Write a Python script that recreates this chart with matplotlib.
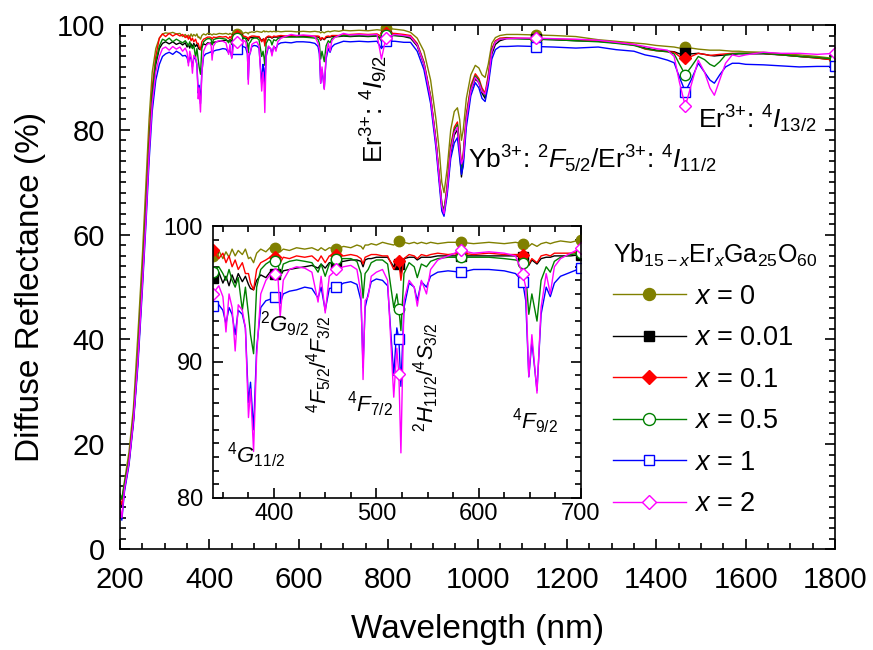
import numpy as np
import matplotlib
matplotlib.use("Agg")
import matplotlib.pyplot as plt
from matplotlib.ticker import MultipleLocator

plt.rcParams.update({
    "font.family": "Liberation Sans",
    "mathtext.fontset": "custom",
    "mathtext.rm": "Liberation Sans",
    "mathtext.it": "Liberation Sans:italic",
    "mathtext.bf": "Liberation Sans:bold",
    "xtick.direction": "in",
    "ytick.direction": "in",
    "xtick.top": True,
    "ytick.right": True,
    "axes.linewidth": 1.2,
})

# ---------------------------------------------------------------------------
# data: wavelength grid + one reflectance list per x
# ---------------------------------------------------------------------------
wavelength = [
    # UV edge
    200, 204, 210, 220, 230, 240, 250, 258, 265, 272, 280, 288, 295, 302, 310, 318, 326, 334,
    # visible (inset range)
    340, 346, 350, 353, 356, 359, 362, 365, 369, 372, 375, 377, 380, 383, 387, 392, 396, 401,
    404, 406, 409, 415, 422, 430, 437, 443, 446, 450, 454, 461, 468, 475, 481, 485, 487, 489,
    492, 495, 500, 506, 511, 517, 520, 522, 524, 527, 532, 537, 540, 544, 549, 553, 560, 570,
    583, 595, 610, 625, 636, 643, 646, 649, 652, 657, 661, 666, 670, 674, 680, 690, 700,
    # near IR
    715, 735, 755, 775, 785, 795, 815, 835,
    850, 865, 880, 895, 907, 915, 920, 925, 932, 940, 948, 955, 960, 964, 968, 975, 985, 995,
    1003, 1010, 1017, 1024, 1032, 1040, 1050,
    1065, 1090, 1130, 1170, 1220, 1270, 1310, 1350, 1375, 1400, 1425, 1440, 1452, 1465, 1478,
    1494, 1508, 1520, 1530, 1542, 1555, 1570, 1585, 1600, 1640, 1680, 1720, 1760, 1800,
]

r_x0 = [
    10.5, 9.5, 13.0, 18.5, 27.0, 41.0, 56.0, 70.0, 82.0, 91.0, 95.5, 97.5, 98.3, 98.5, 98.4, 98.6, 98.3, 98.4,
    97.8, 98.2, 97.6, 98.1, 97.7, 98.3, 97.8, 98.2, 97.9, 98.3, 97.6, 97.7, 97.3, 98.0, 98.3, 98.1, 98.4, 98.35,
    98.2, 98.1, 98.3, 98.2, 98.4, 98.3, 98.4, 98.2, 98.4, 98.2, 98.4, 98.3, 98.5, 98.4, 98.6, 98.5, 98.3, 98.6,
    98.6, 98.7, 98.6, 98.8, 98.7, 98.6, 98.8, 98.9, 98.7, 98.8, 98.7, 98.8, 98.7, 98.8, 98.7, 98.8, 98.7, 98.8,
    98.8, 98.7, 98.8, 98.7, 98.8, 98.7, 98.7, 98.5, 98.7, 98.5, 98.7, 98.8, 98.7, 98.8, 98.9, 98.8, 99.0,
    98.9, 99.0, 98.9, 99.1, 99.0, 99.4, 99.2, 99.0,
    98.6, 97.5, 95.0, 89.5, 82.0, 75.5, 70.0, 68.0, 72.5, 80.0, 83.5, 84.2, 82.0, 78.0, 80.0, 86.0, 90.5, 92.3,
    91.8, 90.5, 90.0, 92.5, 96.5, 97.6, 98.0,
    98.2, 98.2, 98.1, 98.0, 97.8, 97.2, 96.9, 96.6, 96.4, 96.1, 95.9, 95.8, 95.6, 95.8, 95.6,
    95.4, 95.3, 95.2, 95.2, 95.2, 95.1, 95.0, 95.0, 94.9, 94.8, 94.5, 94.3, 94.0, 93.6,
]

r_x001 = [
    9.0, 8.0, 11.5, 16.5, 24.5, 36.0, 51.0, 64.0, 76.0, 86.0, 92.5, 95.5, 96.5, 96.8, 96.4, 96.8, 96.3, 96.6,
    96.2, 96.6, 95.8, 96.3, 95.6, 96.4, 95.8, 96.5, 95.9, 96.3, 95.7, 95.4, 95.3, 96.0, 96.4, 96.2, 96.6, 96.5,
    96.6, 96.3, 96.7, 96.8, 96.9, 97.0, 97.1, 96.9, 97.2, 96.9, 97.3, 97.3, 97.4, 97.5, 97.5, 97.4, 97.0, 97.5,
    97.6, 97.6, 97.7, 97.7, 97.7, 97.0, 97.3, 97.2, 96.5, 97.6, 97.7, 97.7, 97.5, 97.7, 97.7, 97.7, 97.8, 97.8,
    97.8, 97.8, 97.8, 97.8, 97.8, 97.7, 97.6, 97.1, 97.5, 97.2, 97.6, 97.7, 97.7, 97.8, 97.8, 97.8, 97.9,
    97.8, 97.9, 97.8, 97.9, 97.5, 98.0, 98.0, 97.8,
    97.5, 96.0, 92.5, 86.0, 77.5, 70.0, 65.5, 64.0, 68.5, 75.5, 79.0, 80.0, 76.0, 71.0, 74.0, 82.0, 87.5, 89.7,
    89.0, 87.0, 86.0, 89.5, 94.5, 96.3, 97.0,
    97.4, 97.4, 97.3, 97.2, 97.0, 96.9, 96.6, 96.2, 95.6, 95.2, 95.0, 94.9, 94.5, 94.6, 94.5,
    94.6, 94.4, 94.2, 94.1, 94.2, 94.3, 94.4, 94.5, 94.5, 94.5, 94.3, 94.0, 93.7, 93.3,
]

r_x01 = [
    9.5, 8.5, 12.0, 17.0, 25.0, 37.0, 52.0, 65.5, 78.0, 88.0, 94.0, 97.5, 98.3, 97.8, 98.4, 97.9, 98.3, 97.9,
    98.2, 97.6, 98.0, 97.3, 97.8, 97.0, 97.5, 96.8, 97.3, 96.5, 96.5, 95.8, 95.3, 96.8, 97.3, 97.5, 97.7, 97.7,
    97.6, 97.3, 97.7, 97.6, 97.8, 97.7, 97.8, 97.4, 97.8, 97.3, 97.8, 97.9, 97.8, 97.9, 97.8, 97.6, 97.2, 97.7,
    97.8, 97.9, 97.9, 97.8, 97.8, 96.8, 97.2, 97.4, 96.0, 97.6, 97.9, 97.8, 97.6, 97.9, 97.8, 97.9, 98.0, 97.9,
    98.0, 97.9, 98.0, 97.9, 97.9, 97.9, 97.8, 97.2, 97.6, 97.3, 97.8, 97.9, 97.8, 98.0, 98.0, 98.0, 98.1,
    98.2, 98.3, 98.2, 98.3, 97.8, 98.4, 98.4, 98.2,
    98.0, 96.5, 93.0, 86.5, 78.0, 70.5, 66.0, 64.5, 69.5, 77.0, 80.5, 81.5, 77.5, 73.0, 75.5, 83.0, 88.5, 90.7,
    89.8, 88.0, 87.0, 90.5, 95.5, 97.0, 97.5,
    97.6, 97.5, 97.4, 97.3, 97.2, 97.0, 96.7, 96.3, 95.4, 95.1, 94.9, 94.8, 94.0, 93.7, 94.0,
    94.6, 94.4, 94.2, 94.3, 94.4, 94.5, 94.6, 94.6, 94.6, 94.6, 94.3, 94.0, 93.7, 93.3,
]

r_x05 = [
    10.5, 9.5, 12.5, 17.0, 25.0, 37.0, 52.0, 65.0, 77.0, 87.0, 93.0, 96.0, 97.3, 97.0, 97.5, 96.8, 97.3, 96.9,
    96.6, 97.0, 96.5, 96.0, 96.8, 96.0, 95.5, 96.2, 93.8, 95.5, 93.5, 92.0, 90.6, 95.5, 96.8, 97.2, 97.4, 97.4,
    97.2, 96.2, 97.2, 97.4, 97.5, 97.4, 97.3, 96.6, 97.2, 96.3, 97.2, 97.6, 97.6, 97.6, 97.4, 96.5, 94.7, 96.5,
    96.8, 97.3, 97.5, 97.5, 97.2, 94.0, 95.0, 93.9, 92.3, 96.5, 97.3, 97.0, 96.2, 97.2, 97.0, 97.4, 97.6, 97.7,
    97.7, 97.7, 97.7, 97.6, 97.5, 97.3, 96.5, 93.5, 95.0, 93.0, 96.0, 97.0, 96.6, 97.4, 97.7, 97.9, 98.0,
    97.9, 98.0, 97.9, 98.0, 97.0, 98.1, 98.0, 97.9,
    97.7, 96.3, 92.8, 86.3, 77.8, 70.3, 66.0, 64.5, 69.0, 76.5, 80.0, 81.0, 77.0, 72.5, 75.0, 82.5, 88.0, 90.3,
    89.5, 87.5, 86.5, 90.0, 95.3, 96.8, 97.3,
    97.5, 97.4, 97.3, 97.2, 97.0, 96.8, 96.5, 96.1, 95.5, 95.1, 94.9, 94.5, 92.5, 90.5, 92.0,
    94.0, 93.4, 92.5, 92.1, 93.0, 94.3, 94.5, 94.6, 94.6, 94.6, 94.3, 94.0, 93.8, 93.5,
]

r_x1 = [
    7.0, 5.5, 11.0, 16.0, 24.0, 35.0, 49.5, 62.0, 74.0, 83.5, 89.5, 92.5, 94.0, 94.5, 94.8, 94.4, 95.0, 94.6,
    94.1, 94.2, 93.8, 92.8, 94.0, 93.5, 92.0, 93.8, 93.5, 92.5, 87.0, 88.5, 85.0, 91.0, 94.0, 94.5, 94.6, 94.8,
    94.9, 94.3, 95.0, 95.2, 95.3, 95.5, 95.4, 94.7, 95.5, 93.8, 95.4, 95.5, 95.8, 95.9, 95.7, 94.5, 89.6, 94.0,
    95.0, 95.9, 96.1, 96.0, 95.6, 89.0, 92.5, 91.7, 88.2, 94.0, 95.8, 95.5, 94.5, 95.9, 95.5, 96.3, 96.6, 96.7,
    96.6, 96.8, 96.8, 96.7, 96.5, 95.9, 94.5, 88.9, 91.5, 87.9, 93.5, 95.5, 94.8, 95.8, 96.3, 96.6, 96.9,
    96.8, 96.9, 96.8, 96.9, 95.5, 96.9, 96.9, 96.7,
    96.7, 95.0, 91.5, 85.0, 76.5, 69.0, 64.5, 63.5, 67.5, 74.5, 77.5, 78.5, 74.5, 71.5, 73.0, 80.5, 86.5, 89.0,
    88.0, 86.0, 85.4, 88.5, 93.5, 95.3, 95.9,
    95.9, 96.0, 95.9, 95.8, 95.6, 95.8, 95.3, 95.0, 94.3, 93.9, 93.3, 92.8, 90.0, 87.3, 89.5,
    92.7, 91.0, 89.5, 88.9, 90.5, 92.0, 92.7, 92.7, 92.5, 92.4, 92.2, 92.0, 92.1, 92.1,
]

r_x2 = [
    8.0, 6.0, 11.5, 16.5, 24.5, 36.0, 50.5, 63.0, 75.5, 85.0, 91.0, 94.0, 95.5, 95.8, 95.2, 95.9, 95.4, 95.8,
    95.0, 95.6, 94.8, 92.2, 95.0, 94.0, 90.8, 94.2, 93.8, 92.5, 85.9, 88.0, 83.4, 90.5, 95.0, 96.0, 96.4, 96.5,
    96.0, 93.3, 96.0, 96.8, 97.0, 96.9, 96.6, 94.4, 96.3, 93.6, 96.3, 96.8, 97.0, 97.1, 96.8, 95.0, 88.7, 94.5,
    94.8, 96.3, 96.6, 96.8, 96.0, 87.4, 91.0, 89.1, 83.3, 94.5, 96.0, 95.5, 94.1, 96.0, 95.0, 96.8, 97.5, 97.8,
    98.2, 98.0, 98.1, 98.0, 97.8, 96.5, 95.5, 88.9, 92.0, 87.7, 94.0, 96.5, 95.0, 97.0, 97.6, 98.0, 98.4,
    98.1, 98.2, 98.1, 98.2, 93.5, 97.6, 98.2, 98.0,
    97.8, 96.2, 92.6, 86.0, 77.5, 70.0, 65.5, 64.0, 68.5, 76.0, 79.5, 80.5, 76.0, 73.5, 74.5, 82.0, 87.5, 90.0,
    89.0, 87.3, 86.8, 89.5, 95.0, 96.8, 97.3,
    97.4, 97.5, 97.5, 97.4, 97.3, 97.1, 96.7, 96.3, 95.9, 95.5, 95.2, 94.0, 89.0, 84.5, 88.5,
    93.3, 91.0, 88.0, 86.6, 89.5, 92.7, 94.3, 94.0, 94.3, 94.8, 94.6, 94.6, 94.4, 94.6,
]

labels = ["0", "0.01", "0.1", "0.5", "1", "2"]
colors = ["#808000", "#000000", "#FF0000", "#008000", "#0000FF", "#FF00FF"]
markers = ["o", "s", "D", "o", "s", "D"]
filled = [True, True, True, False, False, False]

# symbol positions (every n-th point in Origin)
main_marks = [461, 795, 1130, 1465, 1800]
inset_marks = [340, 401, 461, 522, 583, 643, 700]

wl = np.array(wavelength)
all_r = [r_x0, r_x001, r_x01, r_x05, r_x1, r_x2]
idx_main = [int(np.argmin(np.abs(wl - m))) for m in main_marks]
idx_inset = [int(np.argmin(np.abs(wl - m))) for m in inset_marks]
msize = {"o": 7.5, "s": 6.5, "D": 6.3}

fig = plt.figure(figsize=(8.73, 6.5), dpi=100)
ax = fig.add_axes([0.1375, 0.1554, 0.819, 0.8061])
axin = fig.add_axes([0.2436, 0.2343, 0.4219, 0.418])

handles = []
for r, lab, c, mk, f in zip(all_r, labels, colors, markers, filled):
    style = dict(color=c, lw=1.0, marker=mk, ms=msize[mk], mec=c, mew=1.0,
                 mfc=c if f else "white")
    h, = ax.plot(wl, r, markevery=idx_main, label=r"$\mathit{x}$ = " + lab, **style)
    axin.plot(wl, r, markevery=idx_inset, **style)
    handles.append(h)

# main axes
ax.set_xlim(200, 1800)
ax.set_ylim(0, 100)
ax.xaxis.set_major_locator(MultipleLocator(200))
ax.xaxis.set_minor_locator(MultipleLocator(50))
ax.yaxis.set_major_locator(MultipleLocator(20))
ax.yaxis.set_minor_locator(MultipleLocator(2))
ax.tick_params(which="both", width=1.2, labelsize=21)
ax.tick_params(which="major", length=7)
ax.tick_params(which="minor", length=4)
ax.tick_params(axis="x", pad=12)
ax.tick_params(axis="y", pad=11)
ax.set_xlabel("Wavelength (nm)", fontsize=24)
ax.set_ylabel("Diffuse Reflectance (%)", fontsize=24)
ax.xaxis.set_label_coords(0.5, -0.125)
ax.yaxis.set_label_coords(-0.103, 0.5)

fs_main = 19
ax.text(768, 83.9, r"Er$^{3{+}}$: $^{4}\mathit{I}_{9/2}$", rotation=90,
        ha="center", va="center", fontsize=fs_main)
ax.text(979, 72.7, r"Yb$^{3{+}}$: $^{2}\mathit{F}_{5/2}$/Er$^{3{+}}$: $^{4}\mathit{I}_{11/2}$",
        ha="left", va="baseline", fontsize=fs_main)
ax.text(1493, 80.3, r"Er$^{3{+}}$: $^{4}\mathit{I}_{13/2}$",
        ha="left", va="baseline", fontsize=fs_main)

# inset
axin.set_xlim(340, 700)
axin.set_ylim(80, 100)
axin.xaxis.set_major_locator(MultipleLocator(100))
axin.xaxis.set_minor_locator(MultipleLocator(25))
axin.yaxis.set_major_locator(MultipleLocator(10))
axin.yaxis.set_minor_locator(MultipleLocator(1))
axin.tick_params(which="both", width=1.2, labelsize=17)
axin.tick_params(which="major", length=7)
axin.tick_params(which="minor", length=4)
axin.tick_params(axis="x", pad=4)
axin.tick_params(axis="y", pad=7)

fs_in = 16
axin.text(354, 82.55, r"$^{4}\mathit{G}_{11/2}$", ha="left", va="baseline", fontsize=fs_in)
axin.text(386, 92.2, r"$^{2}\mathit{G}_{9/2}$", ha="left", va="baseline", fontsize=fs_in)
axin.text(444, 89.8, r"$^{4}\mathit{F}_{5/2}$/$^{4}\mathit{F}_{3/2}$", rotation=90,
          ha="center", va="center", fontsize=fs_in)
axin.text(471, 86.3, r"$^{4}\mathit{F}_{7/2}$", ha="left", va="baseline", fontsize=fs_in)
axin.text(548.5, 88.9, r"$^{2}\mathit{H}_{11/2}$/$^{4}\mathit{S}_{3/2}$", rotation=90,
          ha="center", va="center", fontsize=fs_in)
axin.text(632.6, 85.1, r"$^{4}\mathit{F}_{9/2}$", ha="left", va="baseline", fontsize=fs_in)

# legend: title as separate text, entries block below it
fig.text(613 / 873, 1 - 263 / 650,
         r"Yb$_{15-\mathit{x}}$Er$_{\mathit{x}}$Ga$_{25}$O$_{60}$",
         ha="left", va="baseline", fontsize=18)
ax.legend(handles=handles, loc="center left",
          bbox_to_anchor=(0.702, 1 - 400.5 / 650),
          bbox_transform=fig.transFigure, frameon=False,
          fontsize=19.5, handlelength=2.7, handletextpad=0.3,
          labelspacing=0.57, borderpad=0, borderaxespad=0, markerscale=1.15)

fig.savefig("out.png", dpi=100)
